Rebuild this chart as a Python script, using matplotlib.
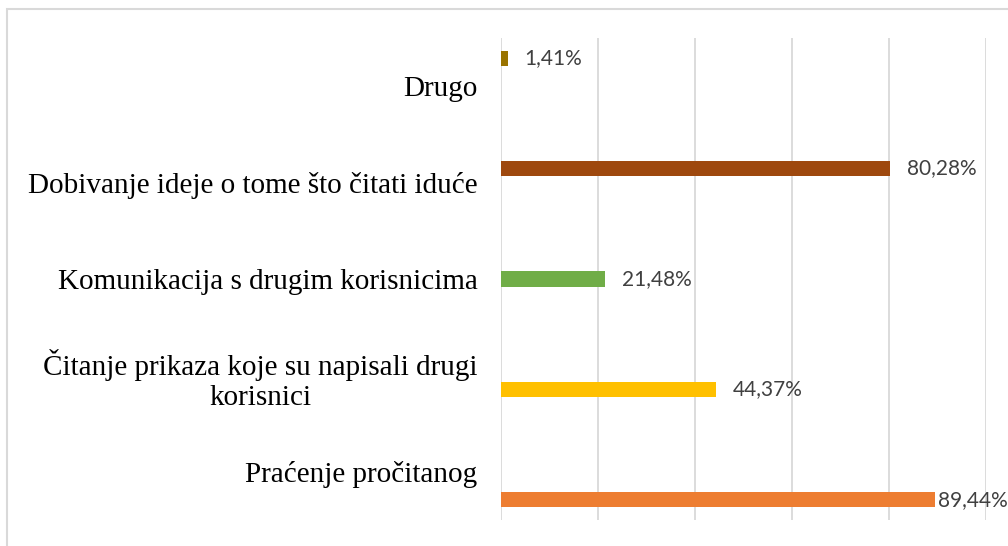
import matplotlib
matplotlib.use('Agg')
import matplotlib.pyplot as plt
import matplotlib.patches as patches

# data (top to bottom as shown)
categories = ['Drugo',
              'Dobivanje ideje o tome što čitati iduće',
              'Komunikacija s drugim korisnicima',
              'Čitanje prikaza koje su napisali drugi\nkorisnici',
              'Praćenje pročitanog']
values = [1.41, 80.28, 21.48, 44.37, 89.44]
value_labels = ['1,41%', '80,28%', '21,48%', '44,37%', '89,44%']
colors = ['#997300', '#9E480E', '#70AD47', '#FFC000', '#ED7D31']

fig = plt.figure(figsize=(10.08, 5.46), dpi=100)
ax = fig.add_axes([501 / 1008, 1 - 520 / 546, 485 / 1008, 482 / 546])

# each category is its own series in a clustered layout, so bars sit at different offsets
slot = 0.146
bar_h = 0.156
n = len(categories)
for i, (v, c) in enumerate(zip(values, colors)):
    y = i + (i - (n - 1) / 2) * slot
    ax.barh(y, v, height=bar_h, color=c, zorder=3)
    pad = 0.6 if v > 85 else 3.4
    ax.text(v + pad, y, value_labels[i], va='center', ha='left',
            fontsize=15, color='#404040', family='Lato')

ax.set_xlim(0, 100)
ax.set_ylim(n - 0.5, -0.5)
ax.set_xticks(range(0, 101, 20))
ax.set_yticks(range(n))
ax.set_yticklabels(categories, family='Liberation Serif', fontsize=21,
                   multialignment='center', linespacing=1.2)
ax.tick_params(axis='y', length=0, pad=17)
ax.tick_params(axis='x', length=0, labelbottom=False)
ax.grid(axis='x', color='#d9d9d9', linewidth=1.3, zorder=0)
for s in ax.spines.values():
    s.set_visible(False)

# chart area border (runs past the right and bottom edges)
fig.patches.append(patches.Rectangle((7 / 1008, -0.1), 1.2, 1 - 9 / 546 + 0.1,
                                     transform=fig.transFigure, fill=False,
                                     edgecolor='#d9d9d9', linewidth=1.5))

fig.savefig('out.png', dpi=100)
